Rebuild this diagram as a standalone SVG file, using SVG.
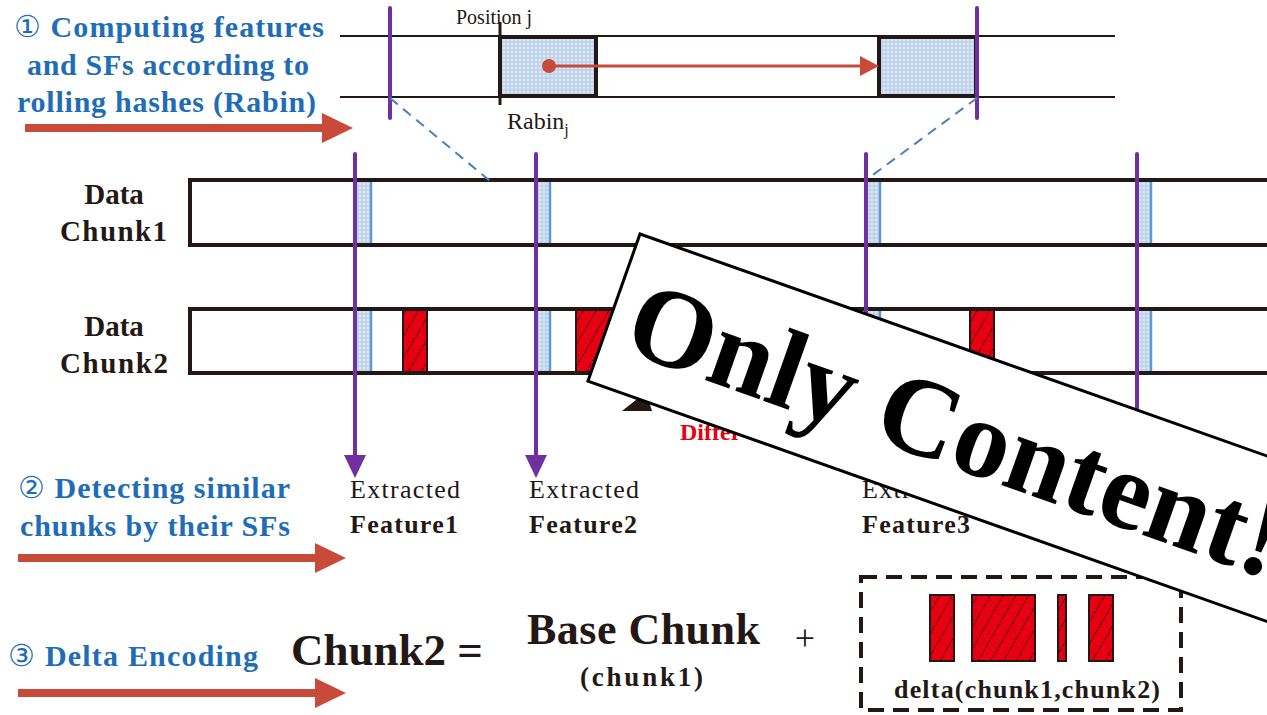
<svg xmlns="http://www.w3.org/2000/svg" width="1267" height="715" viewBox="0 0 1267 715" font-family="'Liberation Serif', serif">
  <style>
    .blue { fill: #1f6db6; font-family: "Liberation Serif", serif; font-weight: bold; font-size: 30px; }
    .dark { fill: #231815; font-family: "Liberation Serif", serif; }
    .bold { font-weight: bold; }
    .chunk { fill: #ffffff; stroke: #231815; stroke-width: 4; }
    .rail { stroke: #231815; stroke-width: 2; }
    .purple { stroke: #7030a0; stroke-width: 4; stroke-linecap: round; fill: none; }
    .strip { fill: url(#dots); stroke: none; }
    .stripEdge { stroke: #5b9bd5; stroke-width: 2.5; }
    .diff { fill: url(#hatch); stroke: #231815; stroke-width: 2; }
    .dash { stroke: #4a7fc4; stroke-width: 2; stroke-dasharray: 10 7; fill: none; }
    .stepArrow { fill: #c84b3a; }
  </style>
  <defs>
    <pattern id="dots" width="4" height="4" patternUnits="userSpaceOnUse">
      <rect width="4" height="4" fill="#dbe6f4"/>
      <circle cx="2" cy="2" r="1.2" fill="none" stroke="#9dbbe0" stroke-width="0.7"/>
    </pattern>
    <pattern id="hatch" width="11" height="11" patternUnits="userSpaceOnUse" patternTransform="rotate(30)">
      <rect width="11" height="11" fill="#e60012"/>
      <line x1="0" y1="0" x2="0" y2="11" stroke="#231815" stroke-width="1.8" stroke-dasharray="2.5 1.5"/>
    </pattern>
  </defs>

  <!-- rolling window strip -->
  <g id="rolling-window">
    <line class="rail" x1="340" y1="36" x2="1115" y2="36"/>
    <line class="rail" x1="340" y1="97" x2="1115" y2="97"/>
    <rect x="500" y="37" width="96" height="59" fill="url(#dots)" stroke="#231815" stroke-width="4"/>
    <rect x="879" y="37" width="97" height="59" fill="url(#dots)" stroke="#231815" stroke-width="4"/>
    <line x1="500" y1="22" x2="500" y2="105" stroke="#231815" stroke-width="3"/>
    <text class="dark" x="456" y="24" font-size="20">Position j</text>
    <text class="dark" x="507" y="129" font-size="24">Rabin<tspan font-size="16" dy="6">j</tspan></text>
    <circle cx="549" cy="66" r="7" fill="#c84b3a"/>
    <line x1="549" y1="66" x2="862" y2="66" stroke="#c84b3a" stroke-width="3"/>
    <path d="M860,56 L879,66 L860,76 z" fill="#c84b3a"/>
  </g>

  <!-- data chunks -->
  <g id="chunk1">
    <text class="dark bold" x="114" y="204" font-size="29" text-anchor="middle">Data</text>
    <text class="dark bold" x="60" y="241" font-size="29" textLength="107" lengthAdjust="spacing">Chunk1</text>
    <rect class="chunk" x="190" y="180" width="1100" height="65"/>
    <rect class="strip" x="357" y="182" width="14" height="61"/>
    <line class="stripEdge" x1="371" y1="182" x2="371" y2="243"/>
    <rect class="strip" x="537" y="182" width="13" height="61"/>
    <line class="stripEdge" x1="550" y1="182" x2="550" y2="243"/>
    <rect class="strip" x="867" y="182" width="13" height="61"/>
    <line class="stripEdge" x1="880" y1="182" x2="880" y2="243"/>
    <rect class="strip" x="1138" y="182" width="13" height="61"/>
    <line class="stripEdge" x1="1151" y1="182" x2="1151" y2="243"/>
  </g>

  <g id="chunk2">
    <text class="dark bold" x="114" y="336" font-size="29" text-anchor="middle">Data</text>
    <text class="dark bold" x="60" y="373" font-size="29" textLength="108" lengthAdjust="spacing">Chunk2</text>
    <rect class="chunk" x="190" y="309" width="1100" height="64"/>
    <rect class="strip" x="357" y="311" width="14" height="60"/>
    <line class="stripEdge" x1="371" y1="311" x2="371" y2="371"/>
    <rect class="strip" x="537" y="311" width="13" height="60"/>
    <line class="stripEdge" x1="550" y1="311" x2="550" y2="371"/>
    <rect class="strip" x="867" y="311" width="13" height="60"/>
    <line class="stripEdge" x1="880" y1="311" x2="880" y2="371"/>
    <rect class="strip" x="1138" y="311" width="13" height="60"/>
    <line class="stripEdge" x1="1151" y1="311" x2="1151" y2="371"/>
    <rect class="diff" x="403" y="310" width="24" height="62"/>
    <rect class="diff" x="576" y="310" width="36" height="62"/>
    <rect class="diff" x="970" y="310" width="24" height="62"/>
  </g>

  <g id="differences">
    <line x1="590" y1="378" x2="655" y2="402" stroke="#231815" stroke-width="3"/>
    <path d="M622,411 L652,411 L646,392 z" fill="#231815"/>
    <text x="680" y="440" font-weight="bold" font-size="24" fill="#e60012">Differ</text>
  </g>

  <!-- extracted features -->
  <g id="feature1">
    <text class="dark" x="350" y="498" font-size="26" textLength="110" lengthAdjust="spacing">Extracted</text>
    <text class="dark bold" x="350" y="533" font-size="26" textLength="108" lengthAdjust="spacing">Feature1</text>
  </g>
  <g id="feature2">
    <text class="dark" x="529" y="498" font-size="26" textLength="110" lengthAdjust="spacing">Extracted</text>
    <text class="dark bold" x="529" y="533" font-size="26" textLength="108" lengthAdjust="spacing">Feature2</text>
  </g>
  <g id="feature3">
    <text class="dark" x="862" y="498" font-size="26" textLength="110" lengthAdjust="spacing">Extracted</text>
    <text class="dark bold" x="862" y="533" font-size="26" textLength="108" lengthAdjust="spacing">Feature3</text>
  </g>

  <!-- step labels -->
  <g id="step1">
    <text class="blue" x="14" y="37" textLength="310" lengthAdjust="spacing"><tspan font-weight="normal">①</tspan> Computing features</text>
    <text class="blue" x="27" y="75" textLength="282" lengthAdjust="spacing">and SFs according to</text>
    <text class="blue" x="17" y="112" textLength="299" lengthAdjust="spacing">rolling hashes (Rabin)</text>
  </g>
  <g id="step2">
    <text class="blue" x="18" y="498" textLength="272" lengthAdjust="spacing"><tspan font-weight="normal">②</tspan> Detecting similar</text>
    <text class="blue" x="20" y="536" textLength="270" lengthAdjust="spacing">chunks by their SFs</text>
  </g>
  <g id="step3">
    <text class="blue" x="8" y="666" textLength="250" lengthAdjust="spacing"><tspan font-weight="normal">③</tspan> Delta Encoding</text>
  </g>

  <!-- delta encoding formula -->
  <g id="formula">
    <text class="dark bold" x="291" y="665" font-size="45" textLength="192" lengthAdjust="spacing">Chunk2 =</text>
    <text class="dark bold" x="527" y="644" font-size="44" textLength="233" lengthAdjust="spacing">Base Chunk</text>
    <text class="dark bold" x="580" y="686" font-size="27" textLength="123" lengthAdjust="spacing">(chunk1)</text>
    <text class="dark" x="805" y="650" font-size="36" text-anchor="middle">+</text>
  </g>
  <g id="delta">
    <rect x="861" y="577" width="320" height="133" fill="none" stroke="#231815" stroke-width="4" stroke-dasharray="16 9"/>
    <rect class="diff" x="930" y="595" width="24" height="66"/>
    <rect class="diff" x="972" y="595" width="63" height="66"/>
    <rect class="diff" x="1058" y="595" width="8" height="66"/>
    <rect class="diff" x="1089" y="595" width="24" height="66"/>
    <text class="dark bold" x="894" y="698" font-size="26" textLength="266" lengthAdjust="spacing">delta(chunk1,chunk2)</text>
  </g>

  <!-- connectors -->
  <g id="connectors">
    <line class="purple" x1="390" y1="8" x2="390" y2="118"/>
    <line class="purple" x1="977" y1="8" x2="977" y2="118"/>
    <line class="dash" x1="390" y1="98" x2="490" y2="181"/>
    <line class="dash" x1="977" y1="98" x2="866" y2="180"/>
    <line class="purple" x1="355" y1="154" x2="355" y2="458"/>
    <path d="M344,455 L366,455 L355,478 z" fill="#7030a0"/>
    <line class="purple" x1="536" y1="154" x2="536" y2="458"/>
    <path d="M525,455 L547,455 L536,478 z" fill="#7030a0"/>
    <line class="purple" x1="866" y1="154" x2="866" y2="460"/>
    <line class="purple" x1="1137" y1="154" x2="1137" y2="470"/>
    <path class="stepArrow" d="M25,124 L322,124 L322,113 L353,128 L322,143 L322,132 L25,132 z"/>
    <path class="stepArrow" d="M18,554 L315,554 L315,543 L346,558 L315,573 L315,562 L18,562 z"/>
    <path class="stepArrow" d="M18,689 L315,689 L315,678 L346,693 L315,708 L315,697 L18,697 z"/>
  </g>

  <!-- overlay banner -->
  <g id="banner" transform="translate(640,234) rotate(19.5)">
    <rect x="0" y="0" width="820" height="156" fill="#ffffff" stroke="#000000" stroke-width="3"/>
    <text x="20" y="116" font-weight="bold" font-size="112" fill="#000000">Only Content!</text>
  </g>
</svg>
